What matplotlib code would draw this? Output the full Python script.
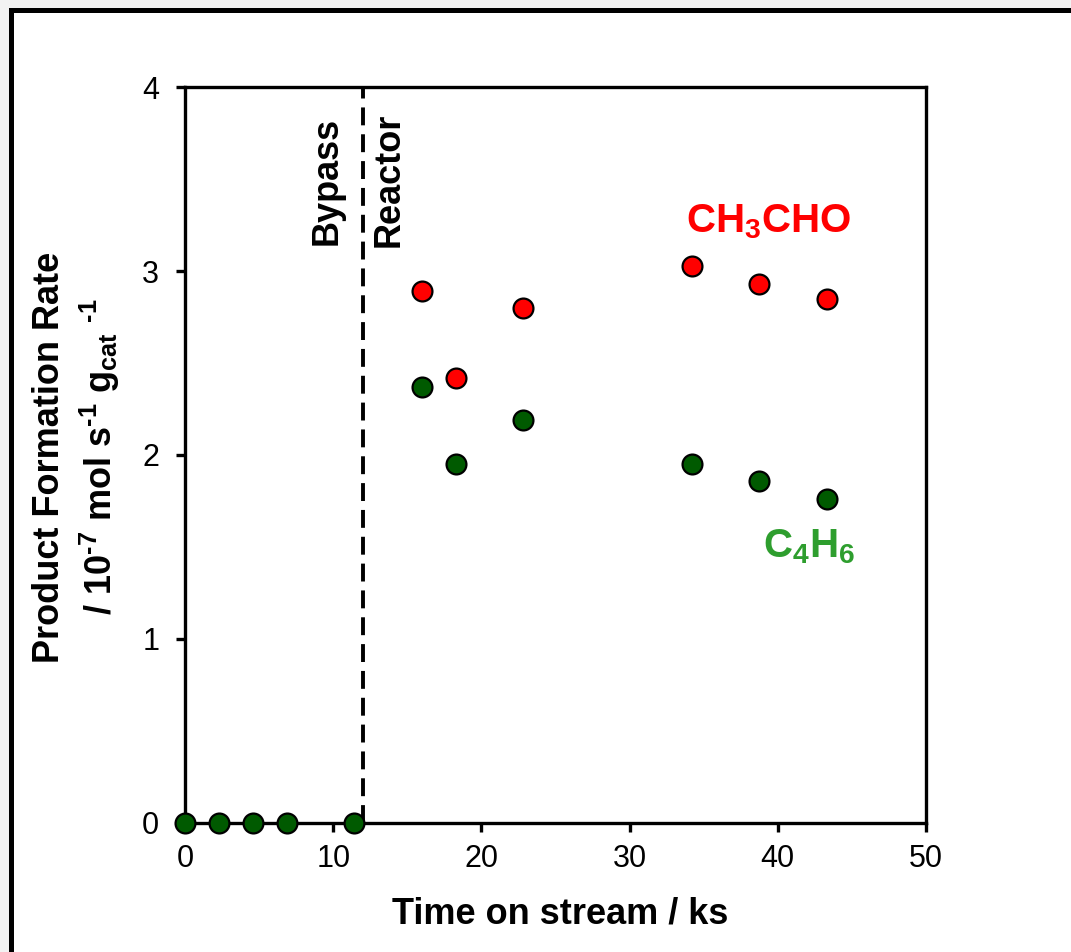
import matplotlib
matplotlib.use("Agg")
import matplotlib.pyplot as plt
from matplotlib.patches import Rectangle

plt.rcParams['font.family'] = ['Liberation Sans', 'DejaVu Sans']
plt.rcParams['mathtext.fontset'] = 'custom'
plt.rcParams['mathtext.rm'] = 'Liberation Sans'
plt.rcParams['mathtext.bf'] = 'Liberation Sans:bold'
plt.rcParams['mathtext.it'] = 'Liberation Sans:italic'
plt.rcParams['mathtext.default'] = 'bf'

# Bypass period (before switching flow to the reactor): no products
bypass_time = [0.0, 2.29, 4.57, 6.86, 11.4]
bypass_rate = [0, 0, 0, 0, 0]

# Reactor period
reactor_time = [15.97, 18.27, 22.79, 34.21, 38.75, 43.34]
ch3cho_rate = [2.89, 2.42, 2.80, 3.03, 2.93, 2.85]
c4h6_rate = [2.37, 1.95, 2.19, 1.95, 1.86, 1.76]

switch_time = 12.0

x_ticks = [0, 10, 20, 30, 40, 50]
y_ticks = [0, 1, 2, 3, 4]

W, H = 1071, 952
fig = plt.figure(figsize=(W / 100, H / 100), dpi=100, facecolor='#f2f2f2')

# white page with a heavy black frame on the top and left
fig.add_artist(Rectangle((10.8 / W, -0.1), 1.2, (H - 10) / H + 0.1,
                         transform=fig.transFigure, facecolor='white',
                         edgecolor='black', linewidth=3.6, zorder=0))

ax = fig.add_axes([185 / W, (H - 822.7) / H, (926 - 185) / W, (822.7 - 87.3) / H])
ax.set_facecolor('white')
ax.set_xlim(0, 50)
ax.set_ylim(0, 4)
ax.set_xticks(x_ticks)
ax.set_yticks(y_ticks)
for s in ax.spines.values():
    s.set_linewidth(2.4)
ax.tick_params(axis='both', direction='out', width=2.4, length=6.5,
               labelsize=22)
ax.tick_params(axis='x', pad=9)
ax.tick_params(axis='y', pad=12)

ax.plot([switch_time, switch_time], [0, 4], color='black', lw=2.8,
        dashes=(4.6, 2.3), zorder=2)

mk = dict(linestyle='none', marker='o', markersize=14.3,
          markeredgecolor='black', markeredgewidth=1.6, clip_on=False, zorder=5)
ax.plot(bypass_time, bypass_rate, markerfacecolor='#005a00', **mk)
ax.plot(reactor_time, ch3cho_rate, markerfacecolor='#ff0000', **mk)
ax.plot(reactor_time, c4h6_rate, markerfacecolor='#005a00', **mk)

ax.text(9.6, 3.84, 'Bypass', rotation=90, ha='center', va='top',
        fontsize=26, fontweight='bold')
ax.text(13.8, 3.86, 'Reactor', rotation=90, ha='center', va='top',
        fontsize=26, fontweight='bold')

ax.text(39.4, 3.27, r'CH$_3$CHO', ha='center', va='center',
        fontsize=29, fontweight='bold', color='#ff0000')
ax.text(42.1, 1.50, r'C$_4$H$_6$', ha='center', va='center',
        fontsize=29, fontweight='bold', color='#2e9e2e')

fig.text(560 / W, (H - 923) / H, 'Time on stream / ks', ha='center',
         va='baseline', fontsize=26, fontweight='bold')
fig.text(50 / W, (H - 457) / H, 'Product Formation Rate', rotation=90,
         ha='center', va='center', fontsize=26, fontweight='bold')
fig.text(100 / W, (H - 457) / H,
         '/ 10$^{\u20107}$ mol s$^{\u20101}$ g$_{cat}$ $^{\u20101}$',
         rotation=90, ha='center', va='center', fontsize=26, fontweight='bold')

fig.savefig('out.png', dpi=100, facecolor=fig.get_facecolor())
